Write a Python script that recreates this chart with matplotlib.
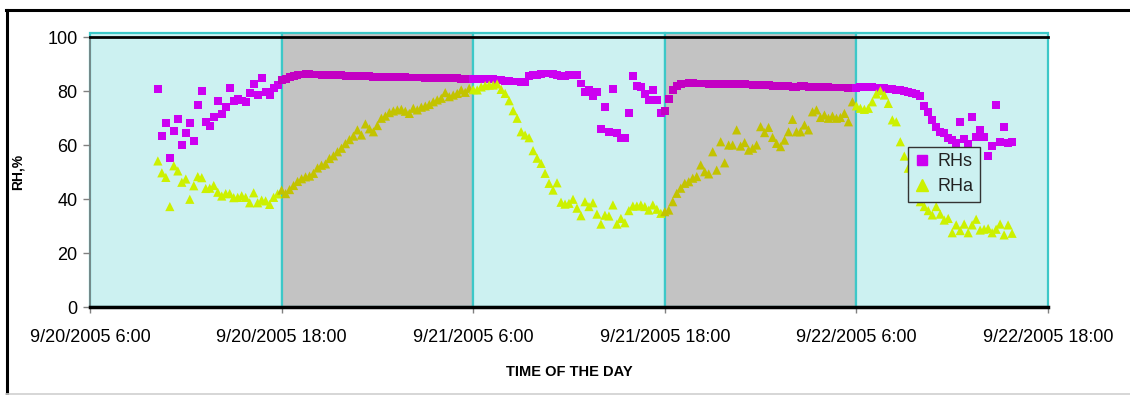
import numpy as np
import pandas as pd
import matplotlib
matplotlib.use("Agg")
import matplotlib.pyplot as plt
import matplotlib.dates as mdates
from matplotlib.patches import Rectangle
from matplotlib.lines import Line2D

plt.rcParams['font.family'] = ['Liberation Sans', 'DejaVu Sans']

# readings every 15 minutes, starting 9/20/2005 10:15
start_time = '2005-09-20 10:15'

rhs_day1 = [80.6, 63.3, 68.3, 55.3, 65.3, 69.6, 59.9, 64.3, 68.3, 61.5, 74.8, 79.9, 68.5, 66.9, 70.5, 76.4,
            71.4, 74.0, 81.1, 76.2, 77.0, 76.5, 76.0, 79.4, 82.6, 78.6, 84.7, 79.5, 78.5, 81.0, 82.2, 84.0]
rhs_night1 = [84.6, 85.2, 85.6, 85.9, 86.1, 86.2, 86.2, 86.1, 86.1, 86.0, 86.0, 86.0, 85.9, 85.9, 85.8, 85.6,
              85.6, 85.6, 85.5, 85.4, 85.4, 85.4, 85.3, 85.3, 85.3, 85.2, 85.2, 85.2, 85.1, 85.1, 85.1, 85.0,
              85.0, 85.0, 85.0, 84.9, 84.9, 84.9, 84.8, 84.8, 84.8, 84.8, 84.7, 84.7, 84.6, 84.6, 84.6, 84.5]
rhs_day2 = [84.5, 84.5, 84.4, 84.4, 84.3, 84.2, 84.0, 83.8, 83.6, 83.5, 83.5, 83.3, 83.3, 85.5, 86.0, 86.0,
            86.3, 86.5, 86.5, 86.3, 86.0, 85.7, 85.7, 85.8, 86.0, 86.0, 82.8, 79.7, 80.4, 78.3, 79.7, 65.8,
            74.0, 64.9, 80.6, 64.6, 62.5, 62.5, 71.7, 85.7, 81.9, 81.4, 78.8, 76.7, 80.4, 76.7, 71.7, 72.6]
rhs_night2 = [77.0, 80.4, 81.9, 82.6, 82.8, 82.9, 82.9, 82.8, 82.8, 82.8, 82.7, 82.7, 82.6, 82.6, 82.6, 82.5,
              82.5, 82.5, 82.4, 82.5, 82.4, 82.3, 82.2, 82.2, 82.2, 82.1, 82.0, 81.8, 81.7, 81.7, 81.7, 81.6,
              81.6, 81.8, 81.7, 81.6, 81.5, 81.5, 81.5, 81.5, 81.4, 81.3, 81.3, 81.3, 81.3, 81.2, 81.2, 81.2]
rhs_day3 = [81.5, 81.5, 81.5, 81.4, 81.3, 81.2, 81.0, 80.8, 80.6, 80.5, 80.3, 80.1, 79.6, 79.2, 78.9, 78.1,
            74.4, 72.3, 69.3, 66.8, 64.9, 64.3, 62.5, 61.9, 60.6, 68.6, 62.1, 60.4, 70.5, 63.1, 65.6, 63.1,
            55.9, 59.6, 74.8, 61.2, 66.6, 60.6, 61.0]

rha_day1 = [54.1, 49.7, 48.0, 37.2, 52.3, 50.4, 46.2, 47.4, 39.9, 44.9, 48.3, 47.9, 43.9, 44.0, 45.0, 42.5,
            41.1, 42.0, 42.0, 40.5, 40.6, 41.2, 40.6, 38.6, 42.3, 38.6, 39.6, 39.3, 38.0, 40.6, 41.9, 43.3]
rha_night1 = [42.0, 43.5, 45.0, 46.5, 47.5, 48.2, 48.5, 49.5, 51.5, 52.5, 53.0, 55.0, 56.0, 57.5, 58.8, 60.5,
              62.0, 63.3, 65.6, 63.7, 67.8, 66.0, 64.9, 67.2, 69.9, 70.7, 72.0, 72.6, 73.0, 73.2, 72.5, 71.7,
              73.6, 73.0, 74.0, 74.4, 75.0, 76.0, 76.7, 77.3, 79.4, 77.9, 78.5, 79.1, 80.4, 79.5, 81.0, 80.5]
rha_day2 = [80.4, 81.5, 82.0, 82.2, 82.2, 82.6, 80.6, 79.1, 76.4, 72.7, 69.9, 64.9, 63.7, 62.7, 57.9, 55.1,
            53.2, 49.5, 45.8, 43.3, 46.0, 38.8, 38.1, 38.4, 39.9, 36.6, 33.8, 39.0, 37.2, 38.6, 34.4, 30.7,
            34.0, 33.7, 37.8, 30.7, 32.8, 31.2, 35.7, 37.4, 37.4, 37.8, 37.2, 35.9, 37.8, 36.2, 34.7, 35.3]
rha_night2 = [35.9, 39.0, 42.1, 44.0, 45.8, 46.4, 47.7, 48.3, 52.6, 50.1, 49.3, 57.5, 50.7, 61.2, 53.4, 60.0,
              60.0, 65.6, 59.6, 60.9, 58.1, 58.8, 60.0, 66.8, 64.6, 66.5, 62.8, 60.6, 59.4, 61.8, 64.9, 69.5,
              64.9, 64.9, 67.4, 65.6, 72.3, 73.0, 70.2, 71.1, 69.9, 70.7, 69.9, 70.2, 71.7, 68.6, 76.0, 74.5]
rha_day3 = [73.6, 73.2, 73.6, 76.0, 78.9, 80.1, 78.5, 75.4, 69.3, 68.6, 61.2, 55.9, 51.4, 46.0, 42.0, 39.0,
            37.2, 35.7, 34.1, 37.2, 34.4, 32.2, 32.8, 27.5, 30.4, 28.3, 30.7, 27.5, 30.4, 32.5, 28.5, 28.8,
            29.1, 27.5, 28.8, 30.7, 26.7, 30.4, 27.3]

# day (light) / night (dark) periods
band_edges = ['2005-09-20 06:00', '2005-09-20 18:00', '2005-09-21 06:00',
              '2005-09-21 18:00', '2005-09-22 06:00', '2005-09-22 18:00']
band_night = [False, True, False, True, False]
tick_labels = ['9/20/2005 6:00', '9/20/2005 18:00', '9/21/2005 6:00',
               '9/21/2005 18:00', '9/22/2005 6:00', '9/22/2005 18:00']

rhs = rhs_day1 + rhs_night1 + rhs_day2 + rhs_night2 + rhs_day3
rha = rha_day1 + rha_night1 + rha_day2 + rha_night2 + rha_day3
times = pd.date_range(start_time, periods=len(rhs), freq='15min')
x = mdates.date2num(times.to_pydatetime())
edges = mdates.date2num(pd.to_datetime(band_edges).to_pydatetime())

day_bg = np.array([0.80, 0.945, 0.945])
night_bg = np.array([0.765, 0.765, 0.765])
magenta = np.array([1.0, 0.0, 1.0])
yellow = np.array([1.0, 1.0, 0.0])
edge_cyan = '#3cc8c8'


def marker_colors(base):
    # markers look multiplied with the background they sit on
    idx = np.clip(np.searchsorted(edges, x, side='right') - 1, 0, len(band_night) - 1)
    return [tuple(base * (night_bg if band_night[i] else day_bg)) for i in idx]


fig = plt.figure(figsize=(11.3, 3.95), dpi=100)
ax = fig.add_axes([90 / 1130, 1 - 307 / 395, 958 / 1130, 270 / 395])

for i in range(len(band_night)):
    ax.add_patch(Rectangle((edges[i], 0), edges[i + 1] - edges[i], 101.5,
                           facecolor=tuple(night_bg if band_night[i] else day_bg),
                           edgecolor=edge_cyan, lw=1.6, clip_on=False, zorder=0))

ax.scatter(x, rhs, marker='s', s=32, c=marker_colors(magenta), edgecolors='none', zorder=3)
ax.scatter(x, rha, marker='^', s=44, c=marker_colors(yellow), edgecolors='none', zorder=4)

ax.set_xlim(edges[0], edges[-1])
ax.set_ylim(0, 100)
ax.set_xticks(edges)
ax.set_xticklabels(tick_labels)
ax.set_yticks([0, 20, 40, 60, 80, 100])

ax.spines['top'].set_color('black')
ax.spines['top'].set_linewidth(2)
ax.spines['top'].set_zorder(5)
ax.spines['bottom'].set_color('black')
ax.spines['bottom'].set_linewidth(2.5)
ax.spines['left'].set_color('#7f7f7f')
ax.spines['left'].set_linewidth(1.2)
ax.spines['right'].set_visible(False)

ax.tick_params(axis='x', direction='out', length=4, width=1, color='#808080', pad=12, labelsize=13)
ax.tick_params(axis='y', direction='out', length=5, width=1, color='#808080', pad=4, labelsize=13)

ax.set_ylabel('RH,%', fontsize=10, fontweight='bold')
ax.yaxis.set_label_coords(-0.068, 0.5)
ax.set_xlabel('TIME OF THE DAY', fontsize=10.5, fontweight='bold')
ax.xaxis.set_label_coords(0.5, -0.215)

handles = [
    Line2D([], [], ls='none', marker='s', markersize=7, color=tuple(magenta * day_bg), label='RHs'),
    Line2D([], [], ls='none', marker='^', markersize=8, color=tuple(yellow * day_bg), label='RHa'),
]
leg = ax.legend(handles=handles, loc='upper left', bbox_to_anchor=(0.854, 0.593), fontsize=13,
                frameon=True, fancybox=False, framealpha=1, facecolor=tuple(day_bg), edgecolor='#333333',
                handlelength=0.8, handletextpad=0.5, borderpad=0.35, labelspacing=0.45,
                borderaxespad=0)
leg.get_frame().set_linewidth(1)
leg.set_zorder(6)
for t in leg.get_texts():
    t.set_color('#222222')

# outer chart border
fig.add_artist(Line2D([6.5 / 1130, 6.5 / 1130], [0, 1 - 10 / 395], color='black', lw=2.2,
                      transform=fig.transFigure))
fig.add_artist(Line2D([6 / 1130, 1], [1 - 10 / 395, 1 - 10 / 395], color='black', lw=2.2,
                      transform=fig.transFigure))
fig.add_artist(Line2D([6 / 1130, 1], [1 - 393.5 / 395, 1 - 393.5 / 395], color='#cfcfcf', lw=1.2,
                      transform=fig.transFigure))

fig.savefig('out.png', dpi=100)
